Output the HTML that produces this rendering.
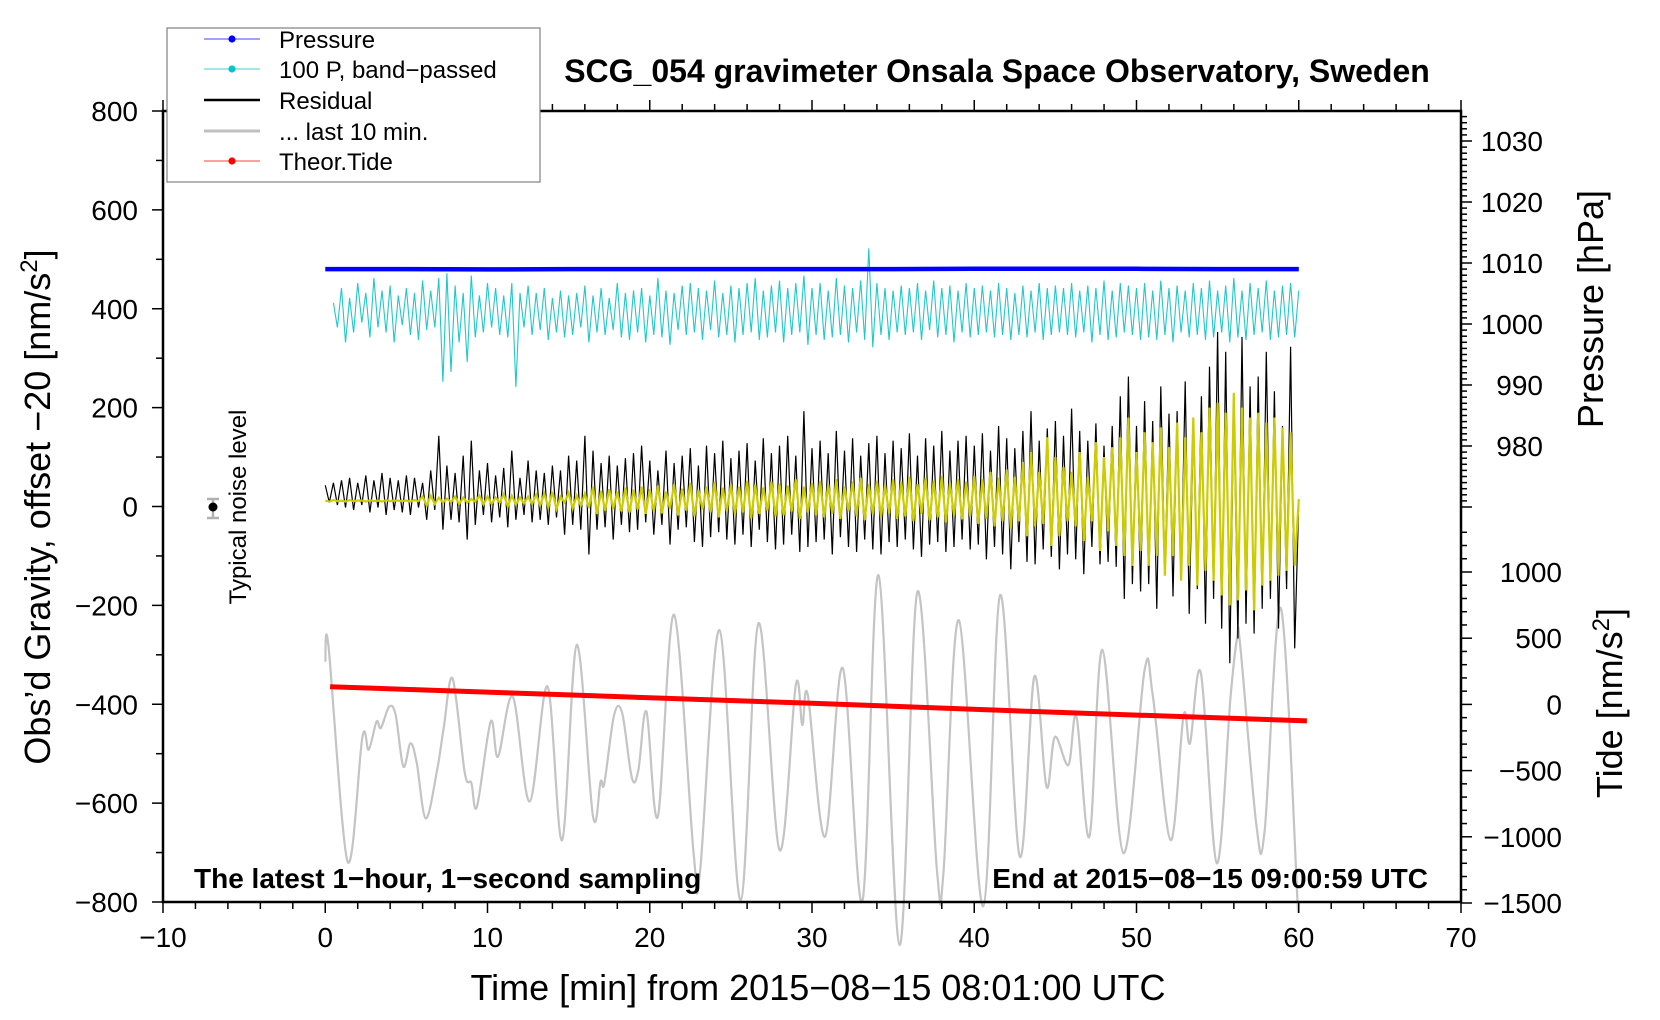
<!DOCTYPE html>
<html><head><meta charset="utf-8"><title>SCG_054 gravimeter</title>
<style>
html,body{margin:0;padding:0;background:#fff;}
svg{display:block;font-family:"Liberation Sans",Arial,sans-serif;}
</style></head>
<body>
<svg id="chart" width="1660" height="1020" viewBox="0 0 1660 1020" xmlns="http://www.w3.org/2000/svg">
  <g id="marks"></g>
  <g id="axes"></g>
  <text x="997" y="82" font-size="32" font-weight="bold" text-anchor="middle">SCG_054 gravimeter Onsala Space Observatory, Sweden</text>
  <text x="818" y="1000" font-size="36" text-anchor="middle">Time [min] from 2015−08−15 08:01:00 UTC</text>
  <text transform="translate(50,507) rotate(-90)" font-size="36" text-anchor="middle">Obs’d Gravity, offset −20 [nm/s<tspan font-size="24" dy="-13">2</tspan><tspan dy="13">]</tspan></text>
  <text transform="translate(1603,309) rotate(-90)" font-size="36" text-anchor="middle">Pressure [hPa]</text>
  <text transform="translate(1622,703) rotate(-90)" font-size="36" text-anchor="middle">Tide [nm/s<tspan font-size="24" dy="-13">2</tspan><tspan dy="13">]</tspan></text>
  <text x="194" y="888" font-size="28" font-weight="bold">The latest 1−hour, 1−second sampling</text>
  <text x="1428" y="888" font-size="28" font-weight="bold" text-anchor="end">End at 2015−08−15 09:00:59 UTC</text>
  <g>
    <line x1="213" y1="499" x2="213" y2="518" stroke="#b0b0b0" stroke-width="2.5"/>
    <line x1="207" y1="499" x2="219" y2="499" stroke="#b0b0b0" stroke-width="2.5"/>
    <line x1="207" y1="518" x2="219" y2="518" stroke="#b0b0b0" stroke-width="2.5"/>
    <circle cx="213" cy="507" r="4.5" fill="#000"/>
    <text transform="translate(246,507) rotate(-90)" font-size="24" text-anchor="middle">Typical noise level</text>
  </g>
  <g>
    <rect x="167" y="28" width="373" height="154" fill="#fff" stroke="#808080" stroke-width="1.2"/>
    <g><line x1="204" y1="39" x2="260" y2="39" stroke="#4040ff" stroke-width="1"/><circle cx="232" cy="39" r="3.6" fill="#0000ff"/><text x="279" y="48" font-size="24">Pressure</text></g>
    <g><line x1="204" y1="69" x2="260" y2="69" stroke="#40d0d0" stroke-width="1"/><circle cx="232" cy="69" r="3.6" fill="#00c8c8"/><text x="279" y="78" font-size="24">100 P, band−passed</text></g>
    <g><line x1="204" y1="100" x2="260" y2="100" stroke="#000" stroke-width="2.5"/><text x="279" y="109" font-size="24">Residual</text></g>
    <g><line x1="204" y1="131" x2="260" y2="131" stroke="#c0c0c0" stroke-width="3"/><text x="279" y="140" font-size="24">... last 10 min.</text></g>
    <g><line x1="204" y1="161" x2="260" y2="161" stroke="#ff4040" stroke-width="1"/><circle cx="232" cy="161" r="3.6" fill="#ff0000"/><text x="279" y="170" font-size="24">Theor.Tide</text></g>
  </g>
</svg>
<script>
// ---- data ----
const pressureTimes = [0,5,10,15,20,25,30,35,40,45,50,55,60];
const pressureValues = [1009.0,1009.0,1008.95,1009.0,1009.0,1009.0,1009.0,1009.0,1009.05,1009.05,1009.05,1009.0,1009.0];
const bandStep = 0.25;
const bandStart = 0.5;
const bandValues = [20,-30,50,-60,30,-40,60,-20,40,-50,70,-30,45,-40,55,-60,35,-25,50,-45,
40,-55,65,-35,45,-30,70,-140,80,-120,55,-60,40,-100,75,-50,35,-40,60,-30,
50,-45,35,-50,60,-150,40,-30,55,-45,40,-35,50,-55,30,-40,45,-50,35,-45,
40,-30,55,-60,35,-40,50,-45,30,-35,60,-50,40,-55,45,-40,50,-60,35,-45,
70,-50,45,-65,40,-35,55,-45,60,-40,50,-55,45,-35,65,-50,40,-45,55,-60,
50,-45,60,-40,70,-55,45,-50,55,-40,65,-60,50,-45,60,-40,75,-65,50,-45,
60,-55,45,-50,70,-45,55,-60,50,-40,65,-55,130,-70,60,-45,50,-55,45,-40,
55,-45,50,-40,60,-55,45,-35,65,-50,50,-45,55,-60,45,-40,60,-50,50,-45,
55,-40,45,-50,60,-45,50,-55,40,-45,55,-50,45,-40,60,-55,50,-45,55,-40,
50,-45,60,-50,45,-40,55,-60,50,-45,65,-55,45,-50,60,-40,55,-45,50,-55,
60,-50,45,-55,65,-45,50,-60,55,-40,45,-50,60,-45,50,-55,65,-50,45,-40,
55,-60,70,-50,45,-55,60,-45,50,-40,65,-55,45,-50,55,-45,60,-50,45];
const bandOffset = 392;
const residStep = 0.25;
const residValues = [30,-5,35,-10,40,-15,45,-20,35,-10,50,-25,40,-15,55,-30,45,-20,40,-25,
50,-30,45,-15,35,-40,60,-20,130,-60,70,-40,55,-45,90,-80,120,-50,60,-30,
75,-45,50,-35,65,-55,100,-40,45,-30,80,-45,60,-40,55,-50,70,-35,60,-70,
90,-50,80,-60,130,-110,100,-60,75,-55,90,-80,70,-50,85,-65,95,-60,110,-45,
80,-70,60,-50,100,-90,75,-60,90,-55,105,-85,70,-95,110,-75,95,-65,120,-80,
85,-90,100,-70,115,-95,80,-60,125,-85,95,-100,110,-90,130,-70,90,-105,180,-95,
105,-85,120,-80,95,-110,140,-75,100,-95,125,-105,90,-80,115,-100,130,-110,95,-85,
120,-95,105,-80,135,-100,90,-115,125,-90,110,-85,140,-105,100,-95,120,-80,130,-100,
110,-90,135,-120,100,-95,150,-110,125,-140,105,-85,140,-125,180,-130,120,-100,145,-115,
160,-140,130,-110,185,-120,140,-150,120,-95,155,-130,110,-125,150,-135,210,-200,250,-170,
150,-185,200,-170,160,-220,230,-150,175,-195,180,-160,240,-230,150,-180,210,-250,270,-200,
340,-260,300,-330,200,-280,330,-250,230,-270,250,-220,300,-200,220,-260,150,-180,310,-300,0];
const residOffset = 13;
const filtValues = [12,10,13,11,12,10,13,11,12,12,10,13,11,12,10,13,11,12,12,11,
12,10,13,11,20,2,22,5,18,8,16,9,20,5,18,8,15,10,22,4,
20,5,18,8,25,0,22,4,18,6,20,5,24,2,26,-2,30,-5,20,8,
28,-4,22,2,26,-3,40,-15,32,-8,35,-5,30,-10,38,-12,34,-6,40,-15,
35,-10,42,-14,30,-5,45,-18,36,-8,48,-20,34,-6,40,-12,50,-22,38,-10,
45,-16,40,-12,52,-24,44,-15,38,-8,50,-20,46,-18,42,-10,55,-25,40,-12,
48,-18,52,-22,45,-15,55,-25,40,-10,50,-20,58,-28,46,-16,52,-22,44,-14,
55,-25,50,-20,60,-30,45,-15,58,-28,52,-22,62,-32,48,-18,56,-26,50,-20,
62,-35,55,-25,70,-40,58,-30,75,-45,60,-30,90,-60,110,-40,70,-35,140,-80,
100,-60,80,-30,70,-40,110,-70,60,-30,130,-90,100,-50,120,-80,140,-100,180,-120,
110,-90,150,-120,130,-100,160,-140,120,-100,170,-150,140,-120,180,-160,150,-130,200,-150,
210,-180,190,-200,230,-190,200,-170,180,-210,190,-160,170,-150,180,-140,160,-130,150,-120,15];
const lastTimes = [0,0.2,1.38,2.29,2.68,3.16,3.43,3.94,4.34,4.81,5.25,5.64,6.2,6.9,7.3,7.85,8.6,9.0,9.35,10.2,10.65,11.56,12.6,13.7,14.6,15.5,16.5,16.97,17.2,17.8,18.3,18.9,19.3,19.8,20.5,21.5,22.7,23.1,24.3,25.6,26.7,28.0,29.0,29.4,29.74,30.8,31.9,33.1,34.1,35.4,36.5,37.7,38.1,39.05,40.55,41.6,42.8,43.7,44.45,44.97,45.8,46.3,47.1,47.9,49.2,50.5,51.0,52.1,52.9,53.3,53.97,54.95,55.8,56.2,56.4,57.4,57.9,58.9,59.96];
const lastValues = [-314,-283,-718,-466,-492,-435,-448,-405,-422,-526,-479,-519,-631,-532,-448,-348,-539,-559,-607,-435,-506,-385,-597,-364,-675,-280,-627,-556,-560,-422,-418,-549,-533,-415,-627,-219,-701,-739,-250,-796,-236,-695,-361,-442,-381,-668,-327,-799,-139,-887,-172,-735,-742,-230,-809,-179,-708,-344,-567,-466,-523,-425,-668,-290,-701,-331,-381,-675,-422,-479,-337,-722,-384,-266,-283,-648,-655,-206,-822];
const tideTimes = [0.3,15,30,45,60.5];
const tideValues = [134,72,8,-60,-125];
const xTicks = [-10,0,10,20,30,40,50,60,70];
const yTicks = [800,600,400,200,0,-200,-400,-600,-800];
const pTicks = [1030,1020,1010,1000,990,980];
const tTicks = [1000,500,0,-500,-1000,-1500];

// ---- axis functions ----
const L=163,R=1461,T=111,B=902;
const xs = t => L + (t+10)*(R-L)/80;
const yL = v => T + (800-v)*(B-T)/1600;
const yP = p => 141 + (1030-p)*6.1;
const yT = v => 704.4 - v*0.1324;
const NS='http://www.w3.org/2000/svg';
const marks=document.getElementById('marks'), axes=document.getElementById('axes');
function mk(tag, parent, attrs){const e=document.createElementNS(NS,tag);for(const k in attrs)e.setAttribute(k,attrs[k]);parent.appendChild(e);return e;}
function pathFrom(xsArr, ysArr){let d='';for(let i=0;i<xsArr.length;i++){d+=(i?'L':'M')+xsArr[i].toFixed(1)+','+ysArr[i].toFixed(1);}return d;}
function smoothPath(X, Y){let d='M'+X[0].toFixed(1)+','+Y[0].toFixed(1);
 for(let i=0;i<X.length-1;i++){const i0=Math.max(0,i-1),i2=i+1,i3=Math.min(X.length-1,i+2);
  const c1x=X[i]+(X[i2]-X[i0])/6,c1y=Y[i]+(Y[i2]-Y[i0])/6,c2x=X[i2]-(X[i3]-X[i])/6,c2y=Y[i2]-(Y[i3]-Y[i])/6;
  d+='C'+c1x.toFixed(1)+','+c1y.toFixed(1)+' '+c2x.toFixed(1)+','+c2y.toFixed(1)+' '+X[i2].toFixed(1)+','+Y[i2].toFixed(1);}
 return d;}

// last 10 min (gray)
let p=mk('path',marks,{d:smoothPath(lastTimes.map(xs),lastValues.map(yL)),fill:'none',stroke:'#c4c4c4','stroke-width':2.2,'stroke-linejoin':'round'});


// band-passed pressure
p=mk('path',marks,{d:pathFrom(bandValues.map((v,i)=>xs(bandStart+i*bandStep)),bandValues.map(v=>yL(bandOffset+v))),fill:'none',stroke:'#20c8c8','stroke-width':1.1});


// pressure
p=mk('path',marks,{d:pathFrom(pressureTimes.map(xs),pressureValues.map(yP)),fill:'none',stroke:'#0000ff','stroke-width':4.5});


// residual
p=mk('path',marks,{d:pathFrom(residValues.map((v,i)=>xs(i*residStep)),residValues.map(v=>yL(residOffset+v))),fill:'none',stroke:'#000','stroke-width':1.2});


// filtered residual (yellow)
p=mk('path',marks,{d:pathFrom(filtValues.map((v,i)=>xs(i*residStep)),filtValues.map(v=>yL(v))),fill:'none',stroke:'#cccc00','stroke-width':2.2});


// tide
p=mk('path',marks,{d:pathFrom(tideTimes.map(xs),tideValues.map(yT)),fill:'none',stroke:'#ff0000','stroke-width':5});



// frame
let fr=mk('rect',axes,{x:L,y:T,width:R-L,height:B-T,fill:'none',stroke:'#000','stroke-width':2.5});


const tickAttrs={stroke:'#000','stroke-width':1.5};
for(let t=-10;t<=70;t+=2){const x=xs(t);const major=(t%10===0);
 mk('line',axes,Object.assign({x1:x,y1:B,x2:x,y2:B+(major?11:7)},tickAttrs));
 mk('line',axes,Object.assign({x1:x,y1:T,x2:x,y2:T-(major?11:7)},tickAttrs));}
xTicks.forEach(t=>{const e=mk('text',axes,{x:xs(t),y:947,'font-size':28,'text-anchor':'middle'});e.textContent=String(t).replace('-','−');
 
 });
for(let v=-800;v<=800;v+=100){const y=yL(v);const major=(v%200===0);
 mk('line',axes,Object.assign({x1:L,y1:y,x2:L-(major?11:7),y2:y},tickAttrs));}
yTicks.forEach(v=>{const e=mk('text',axes,{x:138,y:yL(v)+10,'font-size':28,'text-anchor':'end'});e.textContent=String(v).replace('-','−');
 
 });
for(let pv=970;pv<=1034;pv+=1){const y=yP(pv);const major=(pv%10===0);
 mk('line',axes,Object.assign({x1:R,y1:y,x2:R+(major?11:6),y2:y},tickAttrs));}
pTicks.forEach(v=>{const e=mk('text',axes,{x:1543,y:yP(v)+10,'font-size':28,'text-anchor':'end'});e.textContent=String(v);
 
 });
for(let tv=-1500;tv<=1300;tv+=100){const y=yT(tv);const major=(tv%500===0);
 mk('line',axes,Object.assign({x1:R,y1:y,x2:R+(major?11:6),y2:y},tickAttrs));}
tTicks.forEach(v=>{const e=mk('text',axes,{x:1562,y:yT(v)+10,'font-size':28,'text-anchor':'end'});e.textContent=String(v).replace('-','−');
 
 });
</script>
</body></html>
